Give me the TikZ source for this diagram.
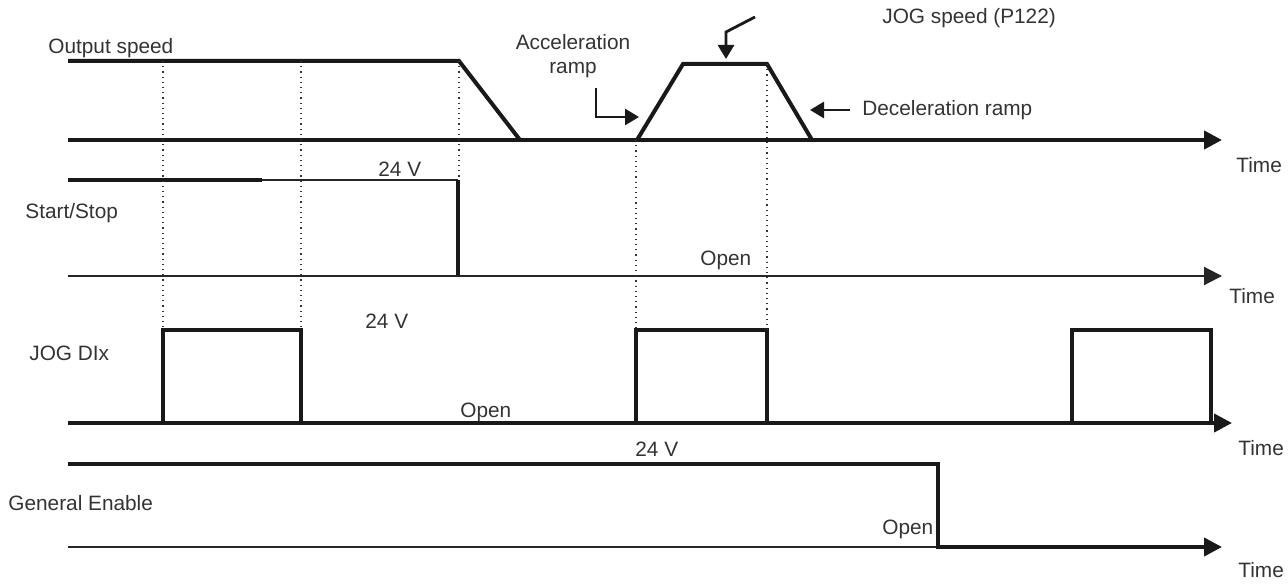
\documentclass[tikz,border=0pt]{standalone}
\usepackage{fontspec}
\setmainfont{Liberation Sans}
\usetikzlibrary{arrows.meta}
\begin{document}
\begin{tikzpicture}[x=0.5pt,y=-0.5pt,
  lbl/.style={inner sep=0pt, anchor=base west, font=\fontsize{10.4}{12}\selectfont, text=black!80},
  thk/.style={line width=2pt, line join=miter, draw=black!90},
  thn/.style={line width=1.1pt, draw=black!85},
  dotl/.style={line width=0.6pt, dotted, draw=black!80},
  axis/.style={-{Triangle[length=9pt,width=9pt]}},
  ann/.style={line width=1.4pt, draw=black!90, -{Triangle[length=7pt,width=8pt]}}]
\useasboundingbox (0,0) rectangle (1288,583);

% ---------- Output speed ----------
\coordinate (os0) at (68,61);
\coordinate (os1) at (459,61);
\coordinate (os2) at (520,140);
\coordinate (osb) at (68,140);
\coordinate (ose) at (1222,140);
\coordinate (r0) at (637,140);
\coordinate (r1) at (683,64);
\coordinate (r2) at (767,64);
\coordinate (r3) at (812,140);
\draw[thk] (os0) -- (os1) -- (os2);
\draw[thk,axis] (osb) -- (ose);
\draw[thk] (r0) -- (r1) -- (r2) -- (r3);

% ---------- Start/Stop ----------
\coordinate (ss0) at (68,180);
\coordinate (ss1) at (262,180);
\coordinate (ss2) at (458,180);
\coordinate (ss3) at (458,276);
\coordinate (ssb) at (68,276);
\coordinate (sse) at (1222,276);
\draw[line width=2pt, draw=black!90] (ss0) -- (ss1);
\draw[thn] (ss1) -- (ss2);
\draw[thk] (ss2) -- (ss3);
\draw[thn,axis] (ssb) -- (sse);

% ---------- JOG DIx ----------
\coordinate (jb) at (68,423);
\coordinate (je) at (1232,423);
\draw[thk,axis] (jb) -- (je);
\coordinate (p1a) at (163,423); \coordinate (p1b) at (163,330);
\coordinate (p1c) at (301,330); \coordinate (p1d) at (301,423);
\coordinate (p2a) at (636,423); \coordinate (p2b) at (636,330);
\coordinate (p2c) at (767,330); \coordinate (p2d) at (767,423);
\coordinate (p3a) at (1072,423); \coordinate (p3b) at (1072,330);
\coordinate (p3c) at (1211,330); \coordinate (p3d) at (1211,423);
\draw[thk] (p1a) -- (p1b) -- (p1c) -- (p1d);
\draw[thk] (p2a) -- (p2b) -- (p2c) -- (p2d);
\draw[thk] (p3a) -- (p3b) -- (p3c) -- (p3d);

% ---------- General Enable ----------
\coordinate (ge0) at (68,464);
\coordinate (ge1) at (938,464);
\coordinate (ge2) at (938,547);
\coordinate (gee) at (1222,547);
\coordinate (geb) at (68,547);
\draw[thn] (geb) -- (ge2);
\draw[thk,axis] (ge0) -- (ge1) -- (ge2) -- (gee);

% ---------- dotted guides ----------
\coordinate (d1t) at (163,61);  \coordinate (d1b) at (163,330);
\coordinate (d2t) at (301,61);  \coordinate (d2b) at (301,330);
\coordinate (d3t) at (459,61);  \coordinate (d3b) at (459,180);
\coordinate (d4t) at (636,140); \coordinate (d4b) at (636,330);
\coordinate (d5t) at (767,64);  \coordinate (d5b) at (767,330);
\draw[dotl] (d1t) -- (d1b);
\draw[dotl] (d2t) -- (d2b);
\draw[dotl] (d3t) -- (d3b);
\draw[dotl] (d4t) -- (d4b);
\draw[dotl] (d5t) -- (d5b);

% ---------- annotation arrows ----------
\coordinate (a1) at (596,88); \coordinate (a2) at (596,117); \coordinate (a3) at (639,117);
\draw[ann] (a1) -- (a2) -- (a3);
\coordinate (b1) at (755,17); \coordinate (b2) at (726,32); \coordinate (b3) at (726,59);
\draw[ann] (b1) -- (b2) -- (b3);
\coordinate (c1) at (850,110); \coordinate (c2) at (810,110);
\draw[ann] (c1) -- (c2);

% ---------- labels ----------
\node[lbl] (tOS) at (48,54) {Output speed};
\node[lbl, anchor=base] (tAcc) at (573,50) {Acceleration};
\node[lbl, anchor=base] (tRamp) at (573,74) {ramp};
\node[lbl] (tJS) at (882,24) {JOG speed (P122)};
\node[lbl] (tDec) at (862,115) {Deceleration ramp};
\node[lbl] (tT1) at (1236,172) {Time};
\node[lbl] (tV1) at (378,176) {24 V};

\node[lbl] (tSS) at (25,218) {Start/Stop};
\node[lbl] (tO1) at (700,265) {Open};
\node[lbl] (tT2) at (1229,303) {Time};

\node[lbl] (tV2) at (365,328) {24 V};
\node[lbl] (tJD) at (29,360) {JOG DIx};
\node[lbl] (tO2) at (460,417) {Open};
\node[lbl] (tT3) at (1238,455) {Time};

\node[lbl] (tV3) at (635,456) {24 V};
\node[lbl] (tGE) at (8,510) {General Enable};
\node[lbl] (tO3) at (882,534) {Open};
\node[lbl] (tT4) at (1238,577) {Time};
\end{tikzpicture}
\end{document}
